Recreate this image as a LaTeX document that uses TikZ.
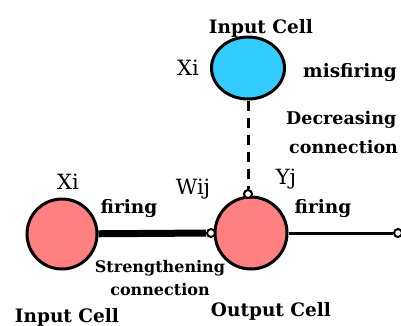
\documentclass[tikz,border=0pt]{standalone}
\usepackage{fontspec}
\setmainfont{DejaVu Serif}
\usepackage{tikz}
\usetikzlibrary{shapes.geometric, positioning}
\definecolor{firingred}{RGB}{255, 128, 128}
\definecolor{misfireblue}{RGB}{51, 204, 255}

\begin{document}
\begin{tikzpicture}[
    x=1pt, y=-1pt,
    cell/.style={circle, draw=black, line width=3pt, fill=firingred, minimum size=70pt, inner sep=0pt},
    topcell/.style={ellipse, draw=black, line width=3pt, fill=misfireblue, minimum width=73pt, minimum height=62pt, inner sep=0pt},
    syn/.style={circle, draw=black, line width=2pt, fill=white, minimum size=8pt, inner sep=0pt},
    label/.style={font=\fontsize{18.5}{29}\selectfont\bfseries, align=center, inner sep=0pt},
    small/.style={font=\fontsize{16}{23}\selectfont\bfseries, align=center, inner sep=0pt},
    var/.style={font=\fontsize{21}{24}\selectfont, inner sep=0pt}
]
\useasboundingbox (0,0) rectangle (401,325);

% Cells
\node (input_cell) [cell] at (62,234) {};
\node (output_cell) [cell, minimum size=72pt] at (251,233) {};
\node (misfire_cell) [topcell] at (248,68) {};

% Synapses
\node (syn_strong) [syn] at (211,233) {};
\node (syn_weak) [syn] at (248,194) {};
\node (syn_out) [syn] at (398,233) {};

% Connections
\draw [line width=7pt] (input_cell) -- (syn_strong);
\draw [line width=3pt, dash pattern=on 10pt off 7pt] (misfire_cell) -- (syn_weak);
\draw [line width=3pt] (output_cell) -- (syn_out);

% Labels
\node [label, anchor=base] at (261,33) {Input Cell};
\node [var, anchor=base] at (188,75) {Xi};
\node [label, anchor=base] at (350,77) {misfiring};
\node [label, font=\fontsize{17.5}{29}\selectfont\bfseries, anchor=base west, align=left] at (286,153) {Decreasing\\\hspace*{3pt}connection};

\node [var, anchor=base] at (68,189) {Xi};
\node [label, anchor=base] at (129,213) {firing};
\node [var, anchor=base] at (193,194) {Wij};
\node [var, anchor=base] at (286,184) {Yj};
\node [label, anchor=base] at (323,213) {firing};
\node [small, anchor=base] at (160,295) {Strengthening\\connection};

\node [label, anchor=base] at (67,322) {Input Cell};
\node [label, anchor=base] at (271,316) {Output Cell};

\end{tikzpicture}
\end{document}
